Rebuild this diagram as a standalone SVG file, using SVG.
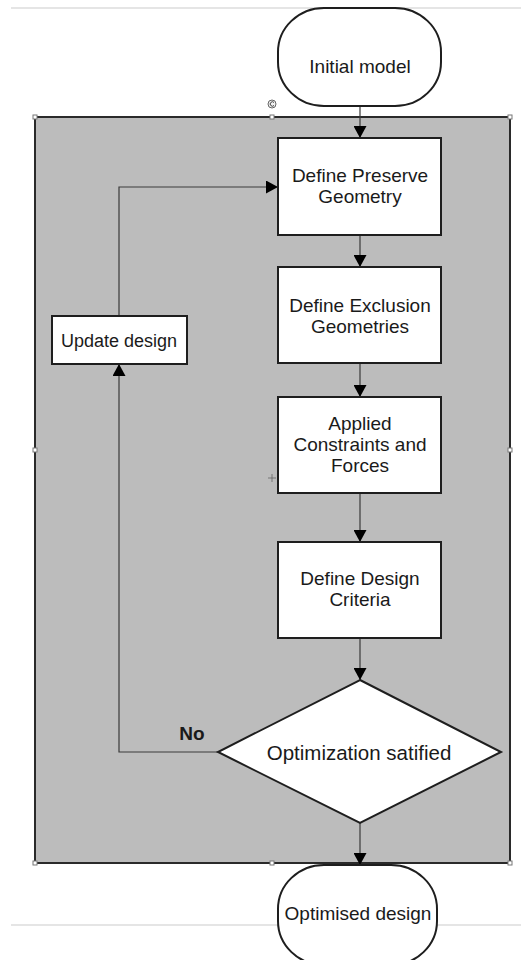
<svg xmlns="http://www.w3.org/2000/svg" width="521" height="960" viewBox="0 0 521 960">
  <style>
    .guide { stroke: #dcdcdc; stroke-width: 1.5; fill: none; }
    .frame { fill: #bcbcbc; stroke: #2a2a2a; stroke-width: 2; }
    .node { fill: #ffffff; stroke: #1e1e1e; stroke-width: 2; }
    .conn { fill: none; stroke: #3a3a3a; stroke-width: 1.2; }
    .label { font-family: "Liberation Sans", Arial, sans-serif; font-size: 19px; fill: #1a1a1a; text-anchor: middle; }
    .bold { font-weight: bold; }
    .handle { fill: #ffffff; stroke: #777777; stroke-width: 1; }
  </style>
  <defs>
    <marker id="arrow" viewBox="0 0 12 13" refX="12" refY="6.5" markerWidth="12" markerHeight="13" markerUnits="userSpaceOnUse" orient="auto">
      <path d="M0,0 L12,6.5 L0,13 Z" fill="#000000"/>
    </marker>
  </defs>

  <rect width="521" height="960" fill="#ffffff"/>

  <!-- page guide lines -->
  <line class="guide" x1="11" y1="8" x2="521" y2="8"/>
  <line class="guide" x1="11" y1="925" x2="521" y2="925"/>

  <!-- grey selection frame with handles -->
  <g id="frame">
    <rect class="frame" x="35" y="117" width="475" height="746"/>
    <rect class="handle" x="33" y="115" width="4" height="4"/>
    <rect class="handle" x="270" y="115" width="4" height="4"/>
    <rect class="handle" x="508" y="115" width="4" height="4"/>
    <rect class="handle" x="33" y="448" width="4" height="4"/>
    <rect class="handle" x="508" y="448" width="4" height="4"/>
    <rect class="handle" x="33" y="861" width="4" height="4"/>
    <rect class="handle" x="270" y="861" width="4" height="4"/>
    <rect class="handle" x="508" y="861" width="4" height="4"/>
    <circle cx="272" cy="104" r="4" fill="#f2f2f2" stroke="#666" stroke-width="1"/>
    <path d="M274,102.5 A2.2,2.2 0 1 0 274,105.5" fill="none" stroke="#444" stroke-width="1"/>
    <path d="M268,478 h8 M272,474 v8" stroke="#666" stroke-width="0.8"/>
  </g>

  <!-- connectors -->
  <g id="connectors">
    <line class="conn" x1="360" y1="99" x2="360" y2="138" marker-end="url(#arrow)"/>
    <line class="conn" x1="360" y1="235" x2="360" y2="267" marker-end="url(#arrow)"/>
    <line class="conn" x1="360" y1="363" x2="360" y2="397" marker-end="url(#arrow)"/>
    <line class="conn" x1="360" y1="493" x2="360" y2="542" marker-end="url(#arrow)"/>
    <line class="conn" x1="360" y1="638" x2="360" y2="680" marker-end="url(#arrow)"/>
    <line class="conn" x1="360" y1="823" x2="360" y2="865" marker-end="url(#arrow)"/>
    <polyline class="conn" points="218,752 119,752 119,364" marker-end="url(#arrow)"/>
    <polyline class="conn" points="119,316 119,187 278,187" marker-end="url(#arrow)"/>
    <text class="label bold" x="192" y="740">No</text>
  </g>

  <g id="initial-model">
    <rect class="node" x="278" y="8" width="163" height="98" rx="46" ry="44"/>
    <text class="label" x="360" y="73">Initial model</text>
  </g>

  <g id="define-preserve">
    <rect class="node" x="278" y="138" width="163" height="97"/>
    <text class="label" x="360" y="182">Define Preserve</text>
    <text class="label" x="360" y="203">Geometry</text>
  </g>

  <g id="define-exclusion">
    <rect class="node" x="278" y="267" width="163" height="96"/>
    <text class="label" x="360" y="312">Define Exclusion</text>
    <text class="label" x="360" y="333">Geometries</text>
  </g>

  <g id="constraints-forces">
    <rect class="node" x="278" y="397" width="163" height="96"/>
    <text class="label" x="360" y="430">Applied</text>
    <text class="label" x="360" y="451">Constraints and</text>
    <text class="label" x="360" y="472">Forces</text>
  </g>

  <g id="design-criteria">
    <rect class="node" x="278" y="542" width="163" height="96"/>
    <text class="label" x="360" y="585">Define Design</text>
    <text class="label" x="360" y="606">Criteria</text>
  </g>

  <g id="optimization-check">
    <polygon class="node" points="360,680 501,752 360,823 218,752"/>
    <text class="label" x="359" y="760" style="font-size:20.5px">Optimization satified</text>
  </g>

  <g id="update-design">
    <rect class="node" x="52" y="316" width="135" height="48"/>
    <text class="label" x="119" y="347" style="font-size:18px">Update design</text>
  </g>

  <g id="optimised-design">
    <rect class="node" x="278" y="865" width="159" height="100" rx="46" ry="44"/>
    <text class="label" x="358" y="920">Optimised design</text>
  </g>
</svg>
